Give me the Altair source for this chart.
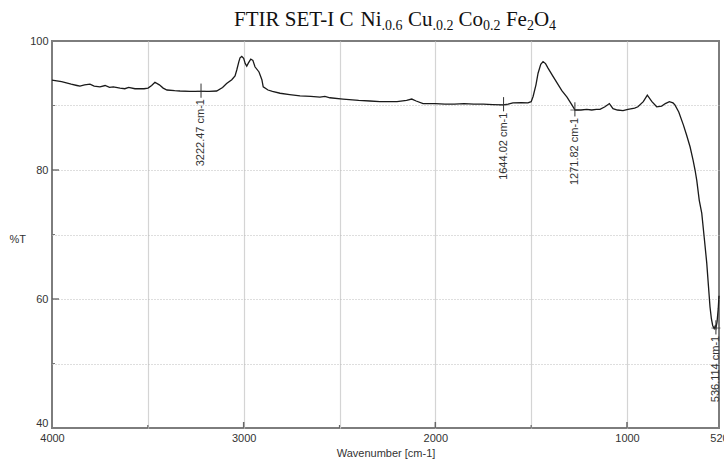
import altair as alt
import pandas as pd

# ---- spectrum data ----
wavenumber = [4000, 3950, 3900, 3870, 3854, 3830, 3802, 3780, 3750, 3723, 3700, 3680, 3645, 3620,
              3600, 3567, 3540, 3520, 3499, 3480, 3463, 3440, 3420, 3400, 3360, 3332, 3280, 3222,
              3180, 3141, 3110, 3089, 3062, 3045, 3036, 3025, 3019, 3010, 3000, 2992, 2984, 2975,
              2963, 2952, 2941, 2920, 2905, 2898, 2873, 2850, 2810, 2760, 2706, 2650, 2602, 2576,
              2550, 2482, 2400, 2341, 2289, 2200, 2150, 2123, 2100, 2064, 2000, 1950, 1900, 1850,
              1800, 1750, 1700, 1647, 1620, 1595, 1550, 1517, 1500, 1490, 1475, 1464, 1450, 1438,
              1425, 1412, 1390, 1365, 1340, 1313, 1290, 1271, 1240, 1210, 1184, 1160, 1141, 1115,
              1092, 1073, 1050, 1021, 995, 960, 943, 915, 894, 870, 845, 819, 800, 779, 760, 750,
              730, 706, 690, 671, 655, 645, 636, 623, 610, 597, 584, 575, 567, 560, 553, 545, 540,
              536, 530, 524, 520]
transmittance = [93.95, 93.7, 93.3, 93.1, 93.0, 93.2, 93.3, 93.0, 92.9, 93.1, 92.8, 92.9, 92.7, 92.6,
                 92.8, 92.6, 92.6, 92.6, 92.7, 93.1, 93.6, 93.2, 92.7, 92.4, 92.3, 92.25, 92.2, 92.2,
                 92.2, 92.25, 92.8, 93.4, 94.0, 94.6, 95.5, 96.8, 97.4, 97.6, 97.3, 96.5, 96.1, 96.6,
                 97.2, 97.0, 96.0, 95.2, 94.0, 92.9, 92.4, 92.2, 91.9, 91.7, 91.5, 91.4, 91.3, 91.4,
                 91.2, 91.0, 90.8, 90.7, 90.6, 90.6, 90.8, 91.0, 90.7, 90.3, 90.3, 90.2, 90.2, 90.3,
                 90.2, 90.2, 90.15, 90.1, 90.2, 90.4, 90.45, 90.4, 90.6, 91.4, 93.2, 95.0, 96.4, 96.8,
                 96.5, 95.8, 94.7, 93.5, 92.3, 91.3, 90.2, 89.3, 89.3, 89.4, 89.3, 89.4, 89.4, 89.8,
                 90.3, 89.5, 89.3, 89.2, 89.4, 89.6, 89.8, 90.6, 91.6, 90.6, 89.8, 89.9, 90.3, 90.6, 90.4, 90.1,
                 89.0, 87.0, 85.5, 83.6, 81.5, 80.0, 78.4, 75.3, 73.3, 69.5, 65.6, 62.0, 58.8, 57.0, 55.9, 55.4, 55.8,
                 55.5, 56.5, 58.5, 60.5]

# ---- peak annotations ----
peak_wn = [3222.47, 1644.02, 1271.82, 536.114]
peak_t = [92.2, 90.1, 89.3, 55.5]
peak_labels = ["3222.47 cm-1", "1644.02 cm-1", "1271.82 cm-1", "536.114 cm-1"]

# ---- axes ----
x_grid = [4000, 3500, 3000, 2500, 2000, 1500, 1000, 520]
y_grid = [100, 90, 80, 70, 60, 50, 40]
x_major_ticks = [3000, 2000, 1000]
x_minor_ticks = [3500, 2500, 1500]
y_major_ticks = [80, 60]
y_minor_ticks = [90, 70, 50]

# ---- title pieces (normal, subscript) ----
title_main = ["FTIR SET-I C", "Ni", "Cu", "Co", "Fe", "O"]
title_sub = [".0.6", ".0.2", "0.2", "2", "4"]
title_main_x = [182, 308.6, 355.9, 406.6, 453.9, 481.9]
title_sub_x = [329.6, 380.4, 431.1, 474.9, 497.1]

W, H = 667, 387
XT = "Wavenumber [cm-1]"
YT = "%T"

xscale = alt.Scale(domain=[520, 4000], reverse=True, nice=False, zero=False)
yscale = alt.Scale(domain=[40, 100], nice=False, zero=False)

spec = pd.DataFrame({"wn": wavenumber, "t": transmittance})
peaks = pd.DataFrame({"wn": peak_wn, "t": peak_t, "label": peak_labels})

x_axis = alt.Axis(
    values=x_grid, format="d",
    labelExpr="(datum.value % 1000 == 0 || datum.value == 520) ? datum.label : ''",
    gridColor={"condition": {"test": "datum.value == 4000 || datum.value == 520", "value": "rgba(0,0,0,0)"},
               "value": "#d4d4d4"},
    gridWidth=1.2, labelPadding=4, labelBaseline="top", labelFlush=False,
    titleY=28, titleBaseline="alphabetic",
)
y_axis = alt.Axis(
    values=y_grid, format="d",
    labelExpr="datum.value % 20 == 0 ? datum.label : ''",
    gridColor={"condition": {"test": "datum.value == 100 || datum.value == 40", "value": "rgba(0,0,0,0)"},
               "value": "#bdbdbd"},
    gridDash=[1, 2], labelPadding=4, labelFlush=False,
    labelBaseline={"condition": {"test": "datum.value == 40", "value": "bottom"}, "value": "middle"},
    titleAngle=0, titleAlign="left", titleBaseline="middle", titleX=-43, titleY=198,
)

line = alt.Chart(spec).mark_line(color="#1a1a1a", strokeWidth=1.3).encode(
    x=alt.X("wn:Q", scale=xscale, axis=x_axis, title=XT),
    y=alt.Y("t:Q", scale=yscale, axis=y_axis, title=YT),
)

peak_rules = alt.Chart(peaks).transform_calculate(
    top="datum.t + 1.2", bot="datum.t - 1.0"
).mark_rule(color="#333333", strokeWidth=1).encode(
    x=alt.X("wn:Q", scale=xscale, title=XT),
    y=alt.Y("top:Q", scale=yscale, title=YT),
    y2="bot:Q",
)

peak_cross = alt.Chart(peaks).mark_tick(orient="horizontal", size=9, thickness=1, color="#333333").encode(
    x=alt.X("wn:Q", scale=xscale, title=XT),
    y=alt.Y("t:Q", scale=yscale, title=YT),
)

peak_text = alt.Chart(peaks).transform_calculate(
    ty="datum.t - 1.2"
).mark_text(angle=270, align="right", baseline="middle", fontSize=11,
            font="Liberation Sans", color="#333333").encode(
    x=alt.X("wn:Q", scale=xscale, title=XT),
    y=alt.Y("ty:Q", scale=yscale, title=YT),
    text="label:N",
)

xt_major = alt.Chart(pd.DataFrame({"wn": x_major_ticks})).mark_rule(color="#666666", strokeWidth=1.5).encode(
    x=alt.X("wn:Q", scale=xscale, title=XT), y=alt.value(H), y2=alt.value(H - 6))
xt_minor = alt.Chart(pd.DataFrame({"wn": x_minor_ticks})).mark_rule(color="#666666", strokeWidth=1.2).encode(
    x=alt.X("wn:Q", scale=xscale, title=XT), y=alt.value(H), y2=alt.value(H - 3))
yt_major = alt.Chart(pd.DataFrame({"t": y_major_ticks})).mark_rule(color="#555555", strokeWidth=1.2).encode(
    y=alt.Y("t:Q", scale=yscale, title=YT), x=alt.value(0), x2=alt.value(7))
yt_minor = alt.Chart(pd.DataFrame({"t": y_minor_ticks})).mark_rule(color="#777777", strokeWidth=1).encode(
    y=alt.Y("t:Q", scale=yscale, title=YT), x=alt.value(0), x2=alt.value(3))

one = pd.DataFrame({"a": [0]})
title_layers = []
for txt, px in zip(title_main, title_main_x):
    title_layers.append(alt.Chart(one).mark_text(align="left", baseline="alphabetic", font="Liberation Serif",
                                                 fontSize=21, color="#111111").encode(
        x=alt.value(px), y=alt.value(-15), text=alt.value(txt)))
for txt, px in zip(title_sub, title_sub_x):
    title_layers.append(alt.Chart(one).mark_text(align="left", baseline="alphabetic", font="Liberation Serif",
                                                 fontSize=14, color="#111111").encode(
        x=alt.value(px), y=alt.value(-11), text=alt.value(txt)))

chart = alt.layer(
    line, peak_rules, peak_cross, peak_text, xt_major, xt_minor, yt_major, yt_minor, *title_layers
).properties(
    width=W, height=H,
    padding={"left": 52, "top": 41, "right": 5, "bottom": 32},
    autosize=alt.AutoSizeParams(type="none"),
).configure_view(
    stroke="#7d7d7d", strokeWidth=2
).configure_axis(
    domain=False, ticks=False, tickSize=0,
    labelFont="Liberation Sans", labelFontSize=11, labelColor="#333333",
    titleFont="Liberation Sans", titleFontSize=11, titleFontWeight="normal", titleColor="#333333",
)

chart.save("out.html", embed_options={"renderer": "svg", "actions": False})
